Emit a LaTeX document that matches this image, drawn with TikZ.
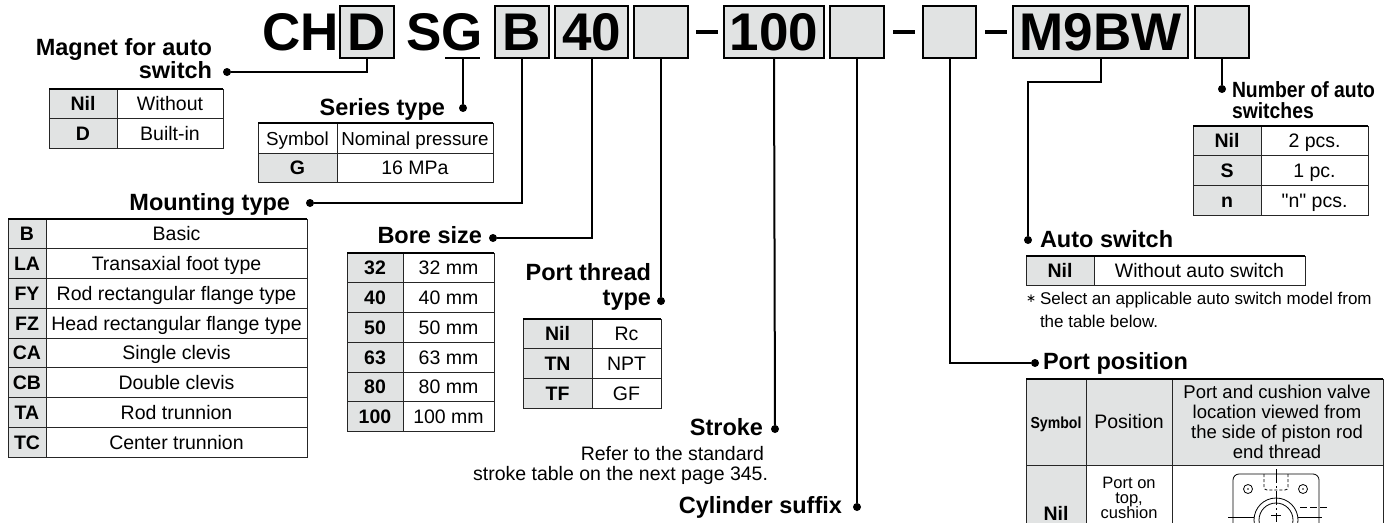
\documentclass[tikz,border=0pt]{standalone}
\usepackage{fontspec}
\setmainfont{Liberation Sans}
\newfontfamily\condfont[FakeStretch=0.88]{Liberation Sans}
\newfontfamily\qfont{Liberation Sans}
\newfontfamily\djv{DejaVu Sans}
\definecolor{cellgray}{RGB}{225,227,227}
\def\rh{29.75}
\tikzset{
  every node/.style={inner sep=0pt, outer sep=0pt},
  codebox/.style={draw=black, line width=2pt, fill=cellgray, minimum height=52pt,
    text height=37pt, text depth=0pt, font=\bfseries\fontsize{53}{60}\selectfont},
  codetxt/.style={font=\bfseries\fontsize{53}{60}\selectfont},
  hd/.style={font=\bfseries\fontsize{23.5}{26}\selectfont},
  cnd/.style={font=\condfont\bfseries\fontsize{22}{24}\selectfont},
  conn/.style={draw=black, line width=2pt},
  dot/.style={circle, fill=black, minimum size=8pt},
  tabline/.style={draw=black!85, line width=0.9pt},
  tabtop/.style={draw=black, line width=2pt},
  key/.style={font=\bfseries\fontsize{19.5}{22}\selectfont},
  val/.style={font=\fontsize{19.5}{22}\selectfont},
  note/.style={font=\fontsize{17}{20}\selectfont},
  thin/.style={draw=black, line width=0.8pt},
}
% #1 x0, #2 y0, #3 xdiv, #4 x1, #5 list key/val, #6 name prefix
\newcommand\kvtab[6]{%
  \foreach \k/\v [count=\i] in {#5} {
    \pgfmathsetmacro\ya{#2+(\i-1)*\rh}
    \pgfmathsetmacro\yb{#2+\i*\rh}
    \pgfmathsetmacro\yt{\yb-\rh/2+7}
    \fill[cellgray] (#1,\ya) rectangle (#3,\yb);
    \draw[tabline] (#1,\ya) rectangle (#4,\yb);
    \draw[tabline] (#3,\ya) -- (#3,\yb);
    \node[key, anchor=base] (#6k\i) at ({(#1+#3)/2},\yt) {\k};
    \node[val, anchor=base] (#6v\i) at ({(#3+#4)/2},\yt) {\v};
  }%
}
\begin{document}
\begin{tikzpicture}[x=1pt, y=-1pt]
\useasboundingbox (0,0) rectangle (1396,522);
\clip (0,0) rectangle (1396,522);

% ---------- model code row ----------
\node[codetxt, anchor=base east] (tCH) at (339,50) {CH};
\node[codebox, minimum width=54pt] (bD) at (367,31.5) {D};
\node[codetxt, anchor=base west] (tSG) at (406,50) {SG};
\coordinate (gu) at (463,58);
\draw[line width=2pt] (445,58) -- (480,58);
\node[codebox, minimum width=54pt] (bB) at (522,31.5) {B};
\node[codebox, minimum width=73pt] (b40) at (591.5,31.5) {40};
\node[codebox, minimum width=54pt] (bE1) at (661,31.5) {};
\draw[line width=4pt] (696,32) -- (718,32);
\node[codebox, minimum width=100pt] (b100) at (774,31.5) {100};
\node[codebox, minimum width=54pt] (bE2) at (857,31.5) {};
\draw[line width=4pt] (893,32) -- (915,32);
\node[codebox, minimum width=53pt] (bE3) at (949.5,31.5) {};
\draw[line width=4pt] (985,32) -- (1007,32);
\node[codebox, minimum width=175pt] (bM) at (1100.5,31.5) {M9BW};
\node[codebox, minimum width=54pt] (bE4) at (1222,31.5) {};

% ---------- dots ----------
\node[dot] (mdot) at (227,72) {};
\node[dot] (sdot) at (463,108) {};
\node[dot] (mtdot) at (310,203) {};
\node[dot] (bsdot) at (493,238) {};
\node[dot] (ptdot) at (661,301) {};
\node[dot] (stdot) at (775,429) {};
\node[dot] (csdot) at (857,507) {};
\node[dot] (ppdot) at (1035,363) {};
\node[dot] (asdot) at (1028,240) {};
\node[dot] (nsdot) at (1222,89) {};

% ---------- connectors ----------
\draw[conn] (bD.south) |- (mdot);
\draw[conn] (gu) -- (sdot);
\draw[conn] (bB.south) |- (mtdot);
\draw[conn] (b40.south) |- (bsdot);
\draw[conn] (bE1.south) -- (ptdot);
\draw[conn] (b100.south) -- (stdot);
\draw[conn] (bE2.south) -- (csdot);
\draw[conn] (bE3.south) |- (ppdot);
\draw[conn] (bM.south) -- ++(0,24) -| (asdot);
\draw[conn] (bE4.south) -- (nsdot);

% ---------- labels ----------
\node[hd, anchor=base east] (mag1) at (212,55) {Magnet for auto};
\node[hd, anchor=base east] (mag2) at (212,78) {switch};
\node[hd, anchor=base east] (ser) at (445,115) {Series type};
\node[hd, anchor=base east] (mnt) at (290,210) {Mounting type};
\node[hd, anchor=base east] (bore) at (482,243) {Bore size};
\node[hd, anchor=base east] (pt1) at (651,280) {Port thread};
\node[hd, anchor=base east] (pt2) at (651,305) {type};
\node[hd, anchor=base east] (str) at (763,435) {Stroke};
\node[val, anchor=base east] (strn1) at (764,460) {Refer to the standard};
\node[val, anchor=base east] (strn2) at (768,480) {stroke table on the next page 345.};
\node[hd, anchor=base east] (cyl) at (842,513) {Cylinder suffix};
\node[cnd, anchor=base west] (num1) at (1232,97) {Number of auto};
\node[cnd, anchor=base west] (num2) at (1232,118) {switches};
\node[hd, anchor=base west] (asw) at (1040,247) {Auto switch};
\node[hd, anchor=base west] (ppos) at (1043,369) {Port position};
\node[anchor=base west, font=\djv\fontsize{12}{14}\selectfont] (ast) at (1026,302) {∗};
\node[note, anchor=base west] (asn1) at (1040,304) {Select an applicable auto switch model from};
\node[note, anchor=base west] (asn2) at (1040,327) {the table below.};

% ---------- tables ----------
% magnet
\kvtab{49}{89}{117}{223}{Nil/Without,D/Built-in}{mg}
\draw[tabtop] (49,89) -- (223,89);
% series
\draw[tabline] (258,123) rectangle (337,153);
\draw[tabline] (337,123) rectangle (493,153);
\node[anchor=base, font=\fontsize{18.8}{22}\selectfont] (sh1) at (297.5,145) {Symbol};
\node[anchor=base, font=\fontsize{18.8}{22}\selectfont] (sh2) at (415,145) {Nominal pressure};
\kvtab{258}{153}{337}{493}{G/16 MPa}{se}
\draw[tabtop] (258,123) -- (493,123);
% mounting
\kvtab{8}{219}{46}{307}{B/Basic,LA/Transaxial foot type,FY/Rod rectangular flange type,FZ/Head rectangular flange type,CA/Single clevis,CB/Double clevis,TA/Rod trunnion,TC/Center trunnion}{mt}
\draw[tabtop] (8,219) -- (307,219);
% bore
\kvtab{347}{253}{403}{494}{32/32 mm,40/40 mm,50/50 mm,63/63 mm,80/80 mm,100/100 mm}{bo}
\draw[tabtop] (347,253) -- (494,253);
% port thread
\kvtab{523}{319}{592}{661}{Nil/Rc,TN/NPT,TF/GF}{pt}
\draw[tabtop] (523,319) -- (661,319);
% number of switches
\kvtab{1193}{126}{1261}{1368}{Nil/2 pcs.,S/1 pc.,n/{\qfont"}n{\qfont"} pcs.}{ns}
\draw[tabtop] (1193,126) -- (1368,126);
% auto switch
\kvtab{1026}{256}{1094}{1305}{Nil/Without auto switch}{as}
\draw[tabtop] (1026,256) -- (1305,256);

% port position
\fill[cellgray] (1026,379) rectangle (1383,465);
\fill[cellgray] (1026,465) rectangle (1086,540);
\draw[tabline] (1026,379) rectangle (1383,540);
\draw[tabline] (1086,379) -- (1086,540);
\draw[tabline] (1172,379) -- (1172,540);
\draw[tabline] (1026,465) -- (1383,465);
\draw[tabtop] (1026,379) -- (1383,379);
\node[anchor=base, font=\condfont\bfseries\fontsize{16}{18}\selectfont] (ph1) at (1056,428) {Symbol};
\node[val, anchor=base] (ph2) at (1129,428.5) {Position};
\node[anchor=base, font=\fontsize{18.5}{20}\selectfont] (ph3a) at (1277,398) {Port and cushion valve};
\node[anchor=base, font=\fontsize{18.5}{20}\selectfont] (ph3b) at (1277,418) {location viewed from};
\node[anchor=base, font=\fontsize{18.5}{20}\selectfont] (ph3c) at (1277,438) {the side of piston rod};
\node[anchor=base, font=\fontsize{18.5}{20}\selectfont] (ph3d) at (1277,458) {end thread};
\node[key, anchor=base] (pn1) at (1056,520.5) {Nil};
\node[anchor=base, font=\fontsize{16.5}{18}\selectfont] (pp1) at (1129,488) {Port on};
\node[anchor=base, font=\fontsize{16.5}{18}\selectfont] (pp2) at (1129,503) {top,};
\node[anchor=base, font=\fontsize{16.5}{18}\selectfont] (pp3) at (1129,518) {cushion};

% port drawing
\draw[thin, rounded corners=6pt] (1233,540) -- (1233,474) -- (1319,474) -- (1319,540);
\draw[thin] (1248,489) circle (4.5);
\draw[thin] (1303,489) circle (4.5);
\fill (1248,489) circle (0.8);
\fill (1303,489) circle (0.8);
\draw[thin, dash pattern=on 3pt off 2pt, rounded corners=3pt] (1264,474) -- (1264,490) -- (1288,490) -- (1288,474);
\draw[thin] (1276,520) circle (22);
\draw[thin] (1276,520) circle (17);
\draw[thin] (1228,517) -- (1254,517);
\draw[thin] (1298,517) -- (1322,517);
\draw[thin] (1271,515) -- (1281,515);
\draw[thin, dash pattern=on 14pt off 3pt on 2pt off 3pt] (1276,469) -- (1276,522);
\draw[thin, dash pattern=on 7pt off 3pt] (1300,507) -- (1328,507);
\end{tikzpicture}
\end{document}
